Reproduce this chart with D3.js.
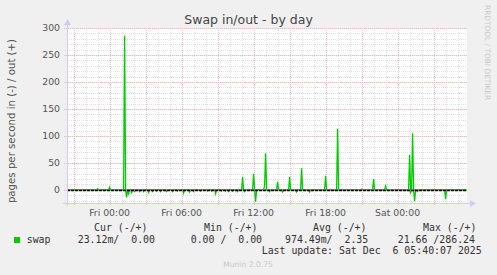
<!DOCTYPE html>
<html>
<head>
<meta charset="utf-8">
<script src="https://cdn.jsdelivr.net/npm/d3@7"></script>
<style>
  body { margin: 0; background: #f0f0f0; }
  svg { display: block; }
  text { font-family: "DejaVu Sans", sans-serif; }
  .mono { font-family: "DejaVu Sans Mono", monospace; font-size: 9.9px; fill: #333; white-space: pre; }
</style>
</head>
<body>
<div id="chart"></div>
<script>
// swap samples, 5 minute steps; samples not listed are 0
var outTimes = ["2025-12-04 23:00", "2025-12-05 00:00", "2025-12-05 01:15", "2025-12-05 11:05",
                "2025-12-05 12:00", "2025-12-05 12:55", "2025-12-05 13:00", "2025-12-05 14:00",
                "2025-12-05 15:00", "2025-12-05 16:00", "2025-12-05 18:00", "2025-12-05 19:00",
                "2025-12-05 21:00", "2025-12-05 22:00", "2025-12-05 23:00", "2025-12-06 01:00",
                "2025-12-06 01:15"];
var outValues = [2, 5, 286.24, 24, 30, 8, 68, 15, 24, 40, 26, 113, 1.5, 20, 7, 65, 105];

// swap in (drawn below zero)
var inTimes = ["2025-12-05 01:25", "2025-12-05 01:35", "2025-12-05 01:50", "2025-12-05 02:05",
               "2025-12-05 02:30", "2025-12-05 02:50", "2025-12-05 03:15", "2025-12-05 03:35",
               "2025-12-05 03:55", "2025-12-05 04:15", "2025-12-05 04:45", "2025-12-05 05:15",
               "2025-12-05 05:40", "2025-12-05 06:10", "2025-12-05 06:40", "2025-12-05 07:00",
               "2025-12-05 07:35", "2025-12-05 08:10", "2025-12-05 08:30", "2025-12-05 08:50",
               "2025-12-05 09:20", "2025-12-05 09:40", "2025-12-05 09:55", "2025-12-05 10:15",
               "2025-12-05 10:40", "2025-12-05 11:15", "2025-12-05 12:10", "2025-12-05 13:20",
               "2025-12-05 14:25", "2025-12-05 15:35", "2025-12-05 16:40", "2025-12-05 18:45",
               "2025-12-06 01:05", "2025-12-06 01:25", "2025-12-06 01:40", "2025-12-06 04:00"];
var inValues = [14, 7, 5, 3, 3, 3, 5, 3, 2, 3, 3, 3, 2, 6, 4, 3, 2, 2, 2, 7,
                2, 2, 3, 2, 3, 3, 21.66, 3, 4, 4, 4, 1, 5, 21, 3, 17];

var yTicks = [0, 50, 100, 150, 200, 250, 300];
var legendHeads = ["Cur (-/+)", "Min (-/+)", "Avg (-/+)", "Max (-/+)"];
var legendValues = ["23.12m/  0.00", "0.00 /  0.00", "974.49m/  2.35", "21.66 /286.24"];
var seriesName = "swap";

var parse = d3.timeParse("%Y-%m-%d %H:%M");
var start = new Date(2025, 11, 4, 20, 27),
    end = new Date(2025, 11, 6, 5, 47);

var plot = {left: 67, right: 467, top: 28, bottom: 203};

var svg = d3.select("#chart")
  .append("svg")
    .attr("width", 497)
    .attr("height", 275);

svg.append("rect")
    .attr("width", 497).attr("height", 275)
    .attr("fill", "#f0f0f0");

var x = d3.scaleTime()
    .domain([start, end])
    .range([plot.left, plot.right]);

var y = d3.scaleLinear()
    .domain([-24.3, 300])
    .range([plot.bottom, plot.top]);

// plot background
svg.append("rect")
    .attr("x", plot.left).attr("y", plot.top)
    .attr("width", plot.right - plot.left).attr("height", plot.bottom - plot.top)
    .attr("fill", "#ffffff");

var grid = svg.append("g").attr("shape-rendering", "crispEdges");

// minor grid
var hours = d3.timeHour.every(1).range(start, end);
grid.selectAll(".vmin").data(hours).enter().append("line")
    .attr("x1", function(d) { return Math.round(x(d)) + 0.5; })
    .attr("x2", function(d) { return Math.round(x(d)) + 0.5; })
    .attr("y1", plot.top).attr("y2", plot.bottom + 2)
    .attr("stroke", "#e2e2e2").attr("stroke-dasharray", "1,1");

var minorY = d3.range(-20, 301, 10);
grid.selectAll(".hmin").data(minorY).enter().append("line")
    .attr("x1", plot.left - 2).attr("x2", plot.right)
    .attr("y1", function(d) { return Math.round(y(d)) + 0.5; })
    .attr("y2", function(d) { return Math.round(y(d)) + 0.5; })
    .attr("stroke", "#e2e2e2").attr("stroke-dasharray", "1,1");

// major grid
var majors = d3.timeHour.every(3).range(start, end);
grid.selectAll(".vmaj").data(majors).enter().append("line")
    .attr("x1", function(d) { return Math.round(x(d)) + 0.5; })
    .attr("x2", function(d) { return Math.round(x(d)) + 0.5; })
    .attr("y1", plot.top).attr("y2", plot.bottom + 3)
    .attr("stroke", "#efc0c0").attr("stroke-dasharray", "1,1");

grid.selectAll(".hmaj").data(yTicks).enter().append("line")
    .attr("x1", plot.left - 3).attr("x2", plot.right)
    .attr("y1", function(d) { return Math.round(y(d)) + 0.5; })
    .attr("y2", function(d) { return Math.round(y(d)) + 0.5; })
    .attr("stroke", "#efc0c0").attr("stroke-dasharray", "1,1");

// build the 5 minute series
var outMap = {}, inMap = {};
outTimes.forEach(function(t, i) { outMap[+parse(t)] = outValues[i]; });
inTimes.forEach(function(t, i) { inMap[+parse(t)] = inValues[i]; });
var steps = d3.timeMinute.every(5).range(start, end);
var outData = steps.map(function(t) { return {t: t, v: outMap[+t] || 0}; });
var inData = steps.map(function(t) { return {t: t, v: -(inMap[+t] || 0)}; });

var line = d3.line()
    .x(function(d) { return x(d.t); })
    .y(function(d) { return y(d.v); });

svg.append("path").datum(inData)
    .attr("d", line).attr("fill", "none")
    .attr("stroke", "#00cc00").attr("stroke-width", 1.3);
svg.append("path").datum(outData)
    .attr("d", line).attr("fill", "none")
    .attr("stroke", "#00cc00").attr("stroke-width", 1.3);

// zero line
svg.append("line")
    .attr("x1", plot.left).attr("x2", plot.right)
    .attr("y1", Math.round(y(0)) + 0.5).attr("y2", Math.round(y(0)) + 0.5)
    .attr("stroke", "#000").attr("stroke-width", 1.3)
    .attr("stroke-dasharray", "3,1");

// axes
var axisCol = "#c8d0f4";
svg.append("line")
    .attr("x1", plot.left + 0.5).attr("x2", plot.left + 0.5)
    .attr("y1", plot.bottom + 3).attr("y2", plot.top - 4)
    .attr("stroke", axisCol);
svg.append("path")
    .attr("d", "M" + (plot.left - 3) + "," + (plot.top - 3) + "L" + (plot.left + 0.5) + "," + (plot.top - 9) + "L" + (plot.left + 4) + "," + (plot.top - 3) + "Z")
    .attr("fill", axisCol);
svg.append("line")
    .attr("x1", plot.left - 4).attr("x2", plot.right + 4)
    .attr("y1", plot.bottom + 0.5).attr("y2", plot.bottom + 0.5)
    .attr("stroke", axisCol);
svg.append("path")
    .attr("d", "M" + (plot.right + 3) + "," + (plot.bottom - 3) + "L" + (plot.right + 9) + "," + (plot.bottom + 0.5) + "L" + (plot.right + 3) + "," + (plot.bottom + 4) + "Z")
    .attr("fill", axisCol);

// y tick labels
svg.selectAll(".ylab").data(yTicks).enter().append("text")
    .attr("x", 60)
    .attr("y", function(d) { return y(d) + 3.4; })
    .attr("text-anchor", "end")
    .style("font-size", "9.3px").style("fill", "#555")
    .text(function(d) { return d; });

// x tick labels every 6 hours
var fmt = d3.timeFormat("%a %H:%M");
var labels = d3.timeHour.every(6).range(start, end);
svg.selectAll(".xlab").data(labels).enter().append("text")
    .attr("x", function(d) { return x(d); })
    .attr("y", 216)
    .attr("text-anchor", "middle")
    .style("font-size", "9.3px").style("fill", "#555")
    .text(function(d) { return fmt(d); });

// title
svg.append("text")
    .attr("x", 248.5).attr("y", 24)
    .attr("text-anchor", "middle")
    .style("font-size", "12.5px").style("fill", "#444")
    .text("Swap in/out - by day");

// y label
svg.append("text")
    .attr("transform", "translate(15," + 121 + ") rotate(-90)")
    .attr("text-anchor", "middle")
    .style("font-size", "10.2px").style("fill", "#555")
    .text("pages per second in (-) / out (+)");

// watermark
svg.append("text")
    .attr("transform", "translate(485,5) rotate(90)")
    .style("font-size", "7.4px").style("fill", "#c8c8c8")
    .text("RRDTOOL / TOBI OETIKER");

// legend
var headX = [94, 204, 313, 423];
var valX = [77.7, 190.7, 285, 397.7];
svg.selectAll(".lh").data(legendHeads).enter().append("text")
    .attr("class", "mono")
    .attr("x", function(d, i) { return headX[i]; })
    .attr("y", 231)
    .text(function(d) { return d; });

svg.append("rect")
    .attr("x", 14).attr("y", 237).attr("width", 6).attr("height", 6)
    .attr("fill", "#00cc00");
svg.append("text").attr("class", "mono")
    .attr("x", 26.7).attr("y", 242.7)
    .text(seriesName);
svg.selectAll(".lv").data(legendValues).enter().append("text")
    .attr("class", "mono")
    .attr("x", function(d, i) { return valX[i]; })
    .attr("y", 242.7)
    .text(function(d) { return d; });

svg.append("text").attr("class", "mono")
    .attr("x", 261.7).attr("y", 254)
    .text("Last update: Sat Dec  6 05:40:07 2025");

svg.append("text")
    .attr("x", 248).attr("y", 266.5)
    .attr("text-anchor", "middle")
    .style("font-size", "7.6px").style("fill", "#c8c8c8")
    .text("Munin 2.0.75");
</script>
</body>
</html>
